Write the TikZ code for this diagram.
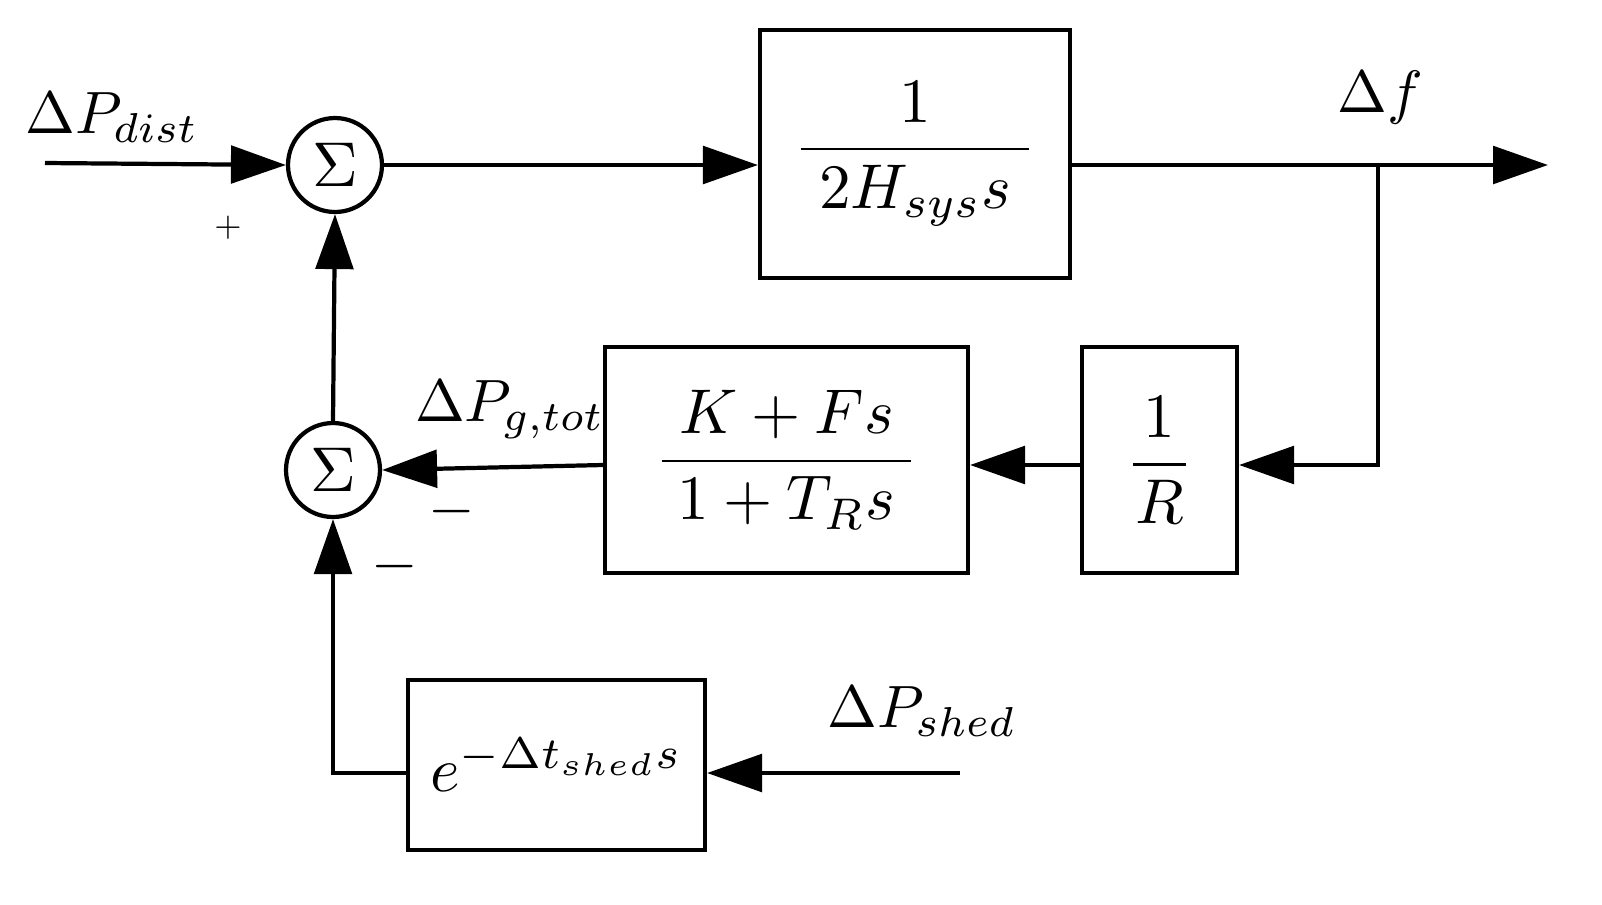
\documentclass[tikz,border=0pt]{standalone}
\usetikzlibrary{arrows.meta}
\newcommand{\sbx}[2]{\scalebox{#1}{#2}}
\begin{document}
\begin{tikzpicture}[x=0.02cm,y=-0.02cm,
  every path/.style={line width=2.4pt},
  arr/.style={-{Triangle[length=1.1cm,width=0.75cm]}},
  blk/.style={draw,line width=2.4pt,inner sep=0pt},
  sum/.style={draw,circle,line width=2.4pt,minimum size=1.88cm,inner sep=0pt}]
\useasboundingbox (0,0) rectangle (1602,904);
\node[sum] (s1) at (335,165) {};
\node[sum] (s2) at (333,470) {};
\node at (s1) {\sbx{3.6}{$\Sigma$}};
\node at (s2) {\sbx{3.6}{$\Sigma$}};
\node[blk,minimum width=6.2cm,minimum height=4.96cm] (b1) at (915,154) {};
\node[blk,minimum width=7.26cm,minimum height=4.52cm] (b2) at (786.5,460) {};
\node[blk,minimum width=3.1cm,minimum height=4.52cm] (b3) at (1159.5,460) {};
\node[blk,minimum width=5.94cm,minimum height=3.4cm] (b4) at (556.5,765) {};
\node at (b1) {\sbx{3.6}{$\displaystyle\frac{\;\;1\;\;}{\;2H_{sys}s\;}$}};
\node at (b2) {\sbx{3.6}{$\displaystyle\frac{\;K+Fs\;}{1+T_Rs}$}};
\node at (b3) {\sbx{3.6}{$\displaystyle\frac{\,1\,}{R}$}};
\node at (b4) {\sbx{3.6}{$e^{-\Delta t_{shed}s}$}};
\coordinate (in1) at (45,163);
\coordinate (out) at (1548,165);
\coordinate (br) at (1378,165);
\coordinate (in4) at (960,773);
\draw[arr] (in1) -- (s1.west);
\draw[arr] (s1.east) -- (b1.west |- s1.east);
\draw[arr] (b1.east |- br) -- (out);
\draw[arr] (br) |- (b3.east |- 0,465);
\draw[arr] (b3.west |- 0,465) -- (b2.east |- 0,465);
\draw[arr] (b2.west |- 0,465) -- (s2.east);
\draw[arr] (s2.north) -- (s1.south);
\draw[arr] (b4.west |- 0,773) -| (s2.south);
\draw[arr] (in4) -- (b4.east |- in4);
\node at (112,118) {\sbx{3.4}{$\Delta P_{dist}$}};
\node at (228,228) {\sbx{2}{$+$}};
\node at (1380,98) {\sbx{3.4}{$\Delta f$}};
\node at (510,410) {\sbx{3.4}{$\Delta P_{g,tot}$}};
\node at (452,512) {\sbx{3.4}{$-$}};
\node at (395,567) {\sbx{3.4}{$-$}};
\node at (922,712) {\sbx{3.4}{$\Delta P_{shed}$}};
\end{tikzpicture}
\end{document}
